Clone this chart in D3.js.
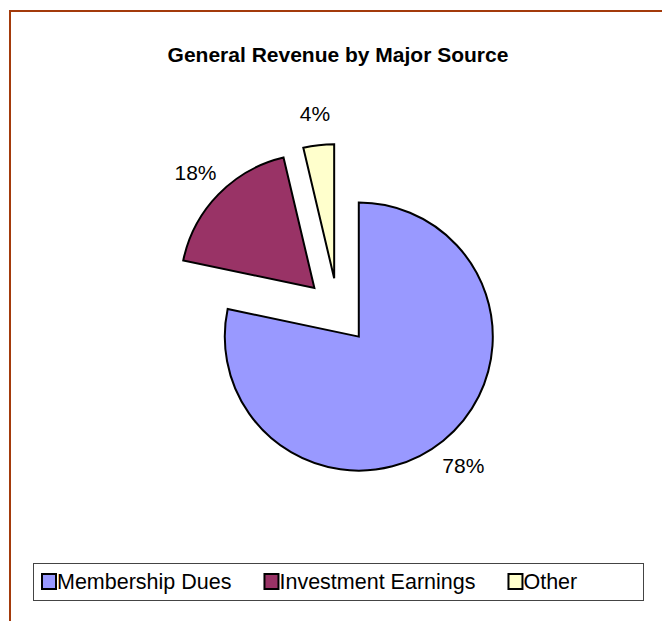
<!DOCTYPE html>
<html lang="en">
<head>
    <meta charset="UTF-8">
    <script src="https://d3js.org/d3.v7.min.js"></script>
    <style>
        body {
            margin: 0;
            background: #fff;
        }
        text {
            font-family: "Liberation Sans", Arial, sans-serif;
        }
    </style>
    <title>General Revenue by Major Source</title>
</head>
<body>
<svg id="chart"></svg>
<script>
    // data
    var categories = ["Membership Dues", "Investment Earnings", "Other"]
    var values = [78.3, 18.0, 3.7]
    var colors = ["#9999FF", "#993366", "#FFFFCC"]

    var width = 662, height = 621
    var svg = d3.select("#chart").attr("width", width).attr("height", height)

    // outer chart border (runs off the right and bottom edges)
    svg.append("rect")
        .attr("x", 10).attr("y", 11)
        .attr("width", 700).attr("height", 700)
        .attr("fill", "none")
        .attr("stroke", "#A33A0B")
        .attr("stroke-width", 2)

    svg.append("text")
        .attr("x", 338).attr("y", 62)
        .attr("text-anchor", "middle")
        .style("font-size", "21px")
        .style("font-weight", "bold")
        .text("General Revenue by Major Source")

    var cx = 338, cy = 311, r = 134, explode = 33

    var pie = d3.pie().sort(null).value(function (d) { return d })
    var arcs = pie(values)
    var arc = d3.arc().innerRadius(0).outerRadius(r)

    var g = svg.append("g").attr("transform", "translate(" + cx + "," + cy + ")")

    // each slice pushed out along its middle angle
    var slices = g.selectAll(".slice")
        .data(arcs)
        .enter()
        .append("g")
        .attr("class", "slice")
        .attr("transform", function (d) {
            var a = (d.startAngle + d.endAngle) / 2
            return "translate(" + (explode * Math.sin(a)) + "," + (-explode * Math.cos(a)) + ")"
        })

    slices.append("path")
        .attr("d", arc)
        .attr("fill", function (d, i) { return colors[i] })
        .attr("stroke", "#000")
        .attr("stroke-width", 2)
        .attr("stroke-linejoin", "miter")

    slices.append("text")
        .attr("x", function (d) {
            var a = (d.startAngle + d.endAngle) / 2
            return (r + 32) * Math.sin(a)
        })
        .attr("y", function (d) {
            var a = (d.startAngle + d.endAngle) / 2
            return -(r + 32) * Math.cos(a)
        })
        .attr("text-anchor", "middle")
        .attr("dy", "0.36em")
        .style("font-size", "21px")
        .attr("fill", "#000")
        .text(function (d) { return Math.round(d.value) + "%" })

    // legend
    var legend = svg.append("g")
    legend.append("rect")
        .attr("x", 33.5).attr("y", 563.5)
        .attr("width", 610).attr("height", 37)
        .attr("fill", "#fff")
        .attr("stroke", "#444")
        .attr("stroke-width", 1)

    var lx = 42
    categories.forEach(function (c, i) {
        legend.append("rect")
            .attr("x", lx).attr("y", 574)
            .attr("width", 14).attr("height", 15)
            .attr("fill", colors[i])
            .attr("stroke", "#000")
            .attr("stroke-width", 2)
        var t = legend.append("text")
            .attr("x", lx + 15).attr("y", 589)
            .style("font-size", "21.5px")
            .text(c)
        lx += 15 + t.node().getComputedTextLength() + 33
    })
</script>
</body>
</html>
